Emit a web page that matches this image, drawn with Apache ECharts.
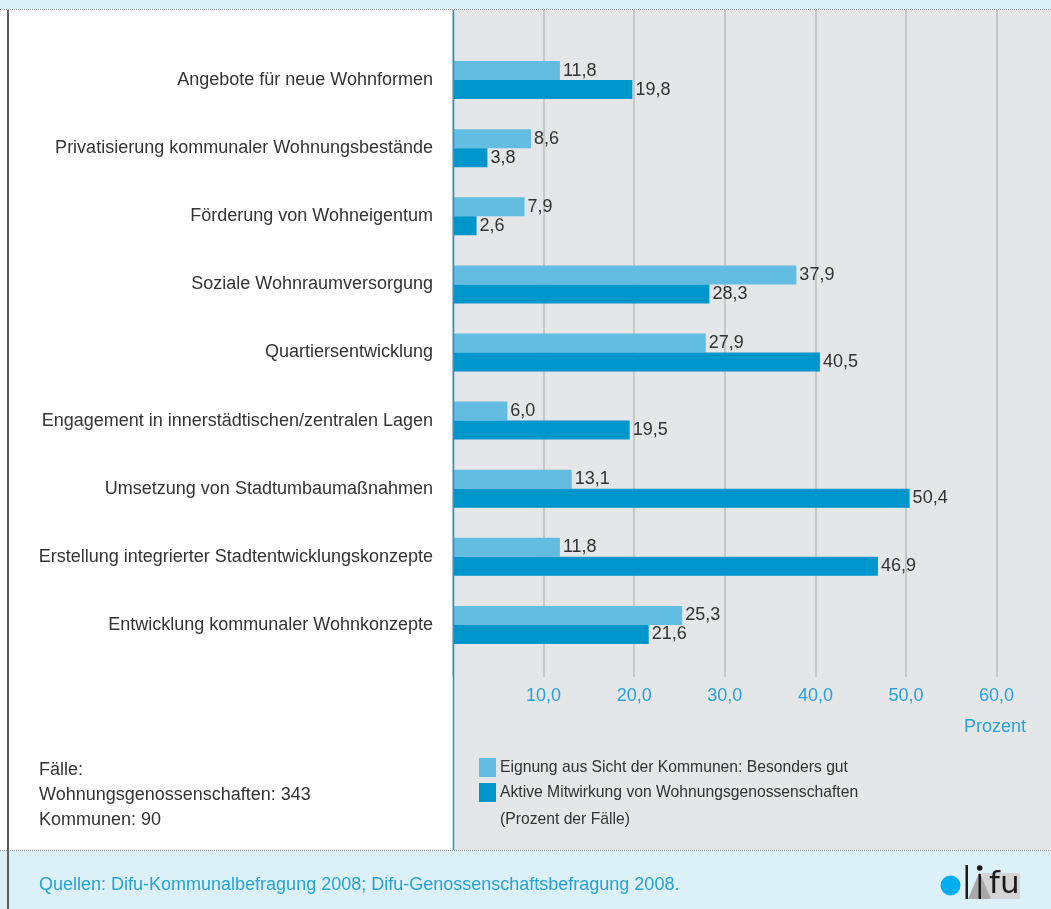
<!DOCTYPE html>
<html>
<head>
<meta charset="utf-8">
<script src="https://cdn.jsdelivr.net/npm/echarts@6/dist/echarts.min.js"></script>
<style>
html,body{margin:0;padding:0;background:#fff;}
#chart{width:1051px;height:909px;}
</style>
</head>
<body>
<div id="chart"></div>
<script>
const categories = [
  'Angebote für neue Wohnformen',
  'Privatisierung kommunaler Wohnungsbestände',
  'Förderung von Wohneigentum',
  'Soziale Wohnraumversorgung',
  'Quartiersentwicklung',
  'Engagement in innerstädtischen/zentralen Lagen',
  'Umsetzung von Stadtumbaumaßnahmen',
  'Erstellung integrierter Stadtentwicklungskonzepte',
  'Entwicklung kommunaler Wohnkonzepte'
];
const eignung = [11.8, 8.6, 7.9, 37.9, 27.9, 6.0, 13.1, 11.8, 25.3];
const mitwirkung = [19.8, 3.8, 2.6, 28.3, 40.5, 19.5, 50.4, 46.9, 21.6];
const tickLabels = ['10,0', '20,0', '30,0', '40,0', '50,0', '60,0'];
const seriesNames = ['Eignung aus Sicht der Kommunen: Besonders gut', 'Aktive Mitwirkung von Wohnungsgenossenschaften'];
const legendNote = '(Prozent der Fälle)';
const unitLabel = 'Prozent';
const caseNotes = ['Fälle:', 'Wohnungsgenossenschaften: 343', 'Kommunen: 90'];
const sourceText = 'Quellen: Difu-Kommunalbefragung 2008; Difu-Genossenschaftsbefragung 2008.';

const FONT = '"Liberation Sans", Arial, sans-serif';
const TXT = '#333333';
const BLUE_TXT = '#27a2d6';
const fmt = v => v.toFixed(1).replace('.', ',');

const chart = echarts.init(document.getElementById('chart'), null, {renderer: 'canvas'});

const graphics = [
  {type: 'rect', z: -10, shape: {x: 0, y: 0, width: 1051, height: 9}, style: {fill: '#dcf0f8'}},
  {type: 'rect', z: -10, shape: {x: 453, y: 10, width: 598, height: 840}, style: {fill: '#e5e6e8'}},
  {type: 'rect', z: -10, shape: {x: 0, y: 851, width: 1051, height: 58}, style: {fill: '#dcf0f8'}},
  {type: 'line', z: 50, shape: {x1: 0, y1: 9.5, x2: 1051, y2: 9.5}, style: {stroke: '#8a8a8a', lineWidth: 1, lineDash: [1, 1]}},
  {type: 'line', z: 50, shape: {x1: 0, y1: 850.5, x2: 1051, y2: 850.5}, style: {stroke: '#8a8a8a', lineWidth: 1, lineDash: [1, 1]}},
  {type: 'line', z: 50, shape: {x1: 8, y1: 10, x2: 8, y2: 909}, style: {stroke: '#5a5a5a', lineWidth: 2}},
  {type: 'line', z: 50, shape: {x1: 453.5, y1: 10, x2: 453.5, y2: 850}, style: {stroke: '#1a9ad6', lineWidth: 1.5}},
  {type: 'text', x: 995, y: 727, style: {text: unitLabel, font: '18px ' + FONT, fill: BLUE_TXT, align: 'center', verticalAlign: 'middle'}},
  {type: 'text', x: 500, y: 820, style: {text: legendNote, font: '15.7px ' + FONT, fill: TXT, align: 'left', verticalAlign: 'middle'}},
  {type: 'text', x: 39, y: 885, style: {text: sourceText, font: '18px ' + FONT, fill: BLUE_TXT, align: 'left', verticalAlign: 'middle'}},
  // logo
  {type: 'circle', z: 20, shape: {cx: 950.5, cy: 885.5, r: 10}, style: {fill: '#00aeef'}},
  {type: 'rect', z: 20, shape: {x: 982, y: 873, width: 38, height: 26}, style: {fill: '#d4d4d4'}},
  {type: 'polygon', z: 21, shape: {points: [[968, 899], [979.5, 872], [991, 899]]}, style: {fill: '#a8a8a8'}},
  {type: 'rect', z: 22, shape: {x: 965.5, y: 865, width: 2.5, height: 34}, style: {fill: '#1a1a1a'}},
  {type: 'rect', z: 22, shape: {x: 978.5, y: 874, width: 2.5, height: 25}, style: {fill: '#1a1a1a'}},
  {type: 'circle', z: 22, shape: {cx: 979.7, cy: 868, r: 2.8}, style: {fill: '#1a1a1a'}},
  {type: 'text', z: 22, x: 989, y: 900, style: {text: 'fu', font: '31px "DejaVu Sans"', fill: '#1a1a1a', align: 'left', verticalAlign: 'bottom'}}
];
caseNotes.forEach((t, i) => {
  graphics.push({type: 'text', x: 39, y: 770 + i * 25, style: {text: t, font: '18px ' + FONT, fill: TXT, align: 'left', verticalAlign: 'middle'}});
});

const labelCfg = {
  show: true, position: 'right', distance: 3,
  fontFamily: FONT, fontSize: 18, color: TXT,
  formatter: p => fmt(p.value)
};

chart.setOption({
  animation: false,
  backgroundColor: '#ffffff',
  textStyle: {fontFamily: FONT},
  graphic: graphics,
  legend: {
    orient: 'vertical', left: 479, top: 758, padding: 0,
    itemWidth: 17, itemHeight: 19, itemGap: 6, icon: 'rect',
    textStyle: {fontFamily: FONT, fontSize: 15.7, color: TXT, padding: [0, 0, 0, -1]},
    data: seriesNames
  },
  grid: [
    {left: 453, top: 10, width: 543.6, height: 667, show: false},
    {left: 453, top: 46, width: 543.6, height: 613, show: false}
  ],
  xAxis: [
    {
      gridIndex: 0, type: 'value', min: 0, max: 60, interval: 10,
      axisLine: {show: false}, axisTick: {show: false},
      splitLine: {show: true, lineStyle: {color: '#bdbdbd', width: 1.5}},
      axisLabel: {
        margin: 10, fontFamily: FONT, fontSize: 18, color: BLUE_TXT,
        formatter: v => (v === 0 ? '' : tickLabels[Math.round(v / 10) - 1])
      }
    },
    {gridIndex: 1, type: 'value', min: 0, max: 60, show: false}
  ],
  yAxis: [
    {gridIndex: 0, type: 'value', show: false},
    {
      gridIndex: 1, type: 'category', data: categories, inverse: true,
      axisLine: {show: false}, axisTick: {show: false}, splitLine: {show: false},
      axisLabel: {margin: 20, fontFamily: FONT, fontSize: 18, color: TXT}
    }
  ],
  series: [
    {
      name: seriesNames[0], type: 'bar', xAxisIndex: 1, yAxisIndex: 1,
      data: eignung, barWidth: 19, barGap: '0%',
      itemStyle: {color: '#63bde1'}, label: labelCfg
    },
    {
      name: seriesNames[1], type: 'bar', xAxisIndex: 1, yAxisIndex: 1,
      data: mitwirkung, barWidth: 19, barGap: '0%',
      itemStyle: {color: '#0095cb'}, label: labelCfg
    }
  ]
});
</script>
</body>
</html>
